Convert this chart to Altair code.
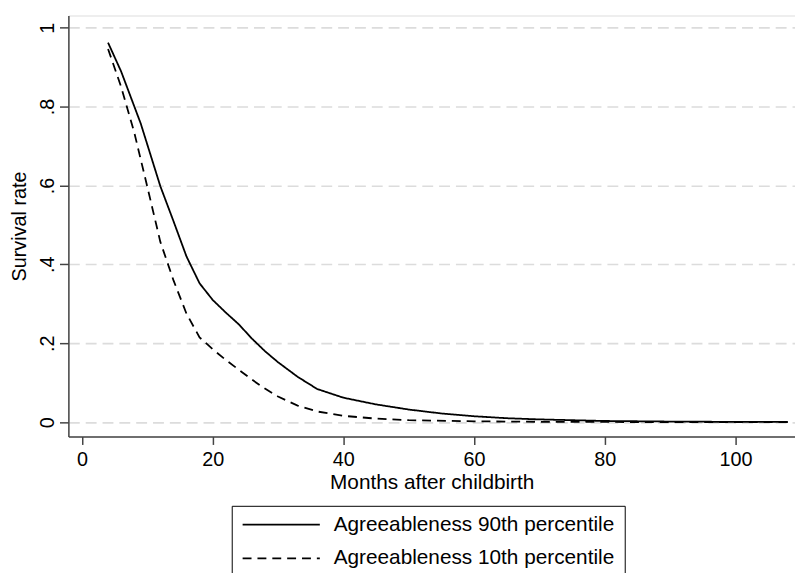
import altair as alt
import pandas as pd

# Solid: Agreeableness 90th percentile
months_p90 = [4, 6, 9, 12, 14, 16, 18, 20, 22, 24, 26, 28, 30, 33, 36, 40, 45, 50, 55, 60, 65, 70, 80, 90, 100, 108]
surv_p90 = [0.962, 0.889, 0.757, 0.598, 0.510, 0.420, 0.352, 0.310, 0.278, 0.248, 0.212, 0.180, 0.152, 0.115,
            0.084, 0.062, 0.045, 0.032, 0.022, 0.015, 0.010, 0.007, 0.003, 0.0015, 0.0007, 0.0004]

# Dashed: Agreeableness 10th percentile
months_p10 = [4, 6, 8, 10, 12, 14, 16, 18, 20, 22, 24, 26, 28, 30, 33, 36, 40, 45, 50, 60, 70, 80, 90, 108]
surv_p10 = [0.946, 0.850, 0.735, 0.597, 0.457, 0.360, 0.275, 0.215, 0.185, 0.158, 0.133, 0.108, 0.085, 0.065,
            0.042, 0.027, 0.016, 0.009, 0.005, 0.002, 0.001, 0.0005, 0.0002, 0.0001]

series_names = ["Agreeableness 90th percentile", "Agreeableness 10th percentile"]
x_ticks = [0, 20, 40, 60, 80, 100]
y_ticks = [0, 0.2, 0.4, 0.6, 0.8, 1.0]

rows = []
for m, s in zip(months_p90, surv_p90):
    rows.append({"month": m, "surv": s, "series": series_names[0]})
for m, s in zip(months_p10, surv_p10):
    rows.append({"month": m, "surv": s, "series": series_names[1]})
df = pd.DataFrame(rows)

FONT = "Liberation Sans"
FS = 20
TFS = 21

chart = alt.Chart(df).mark_line(color="black", strokeWidth=1.8, clip=True).encode(
    x=alt.X("month:Q", scale=alt.Scale(domain=[-2.07, 109.1], nice=False, zero=False),
            axis=alt.Axis(values=x_ticks, title="Months after childbirth", grid=False,
                          tickSize=8, labelPadding=5, labelFontSize=FS, labelFont=FONT,
                          titleFontSize=TFS, titleFont=FONT, titleFontWeight="normal",
                          titleX=367, titleY=52.7, titleBaseline="alphabetic", titleAlign="center",
                          domainColor="#444", tickColor="#444", labelColor="black", titleColor="black",
                          domainWidth=1.5, tickWidth=1.5)),
    y=alt.Y("surv:Q", scale=alt.Scale(domain=[-0.0364, 1.0309], nice=False, zero=False),
            axis=alt.Axis(values=y_ticks, title="Survival rate", grid=True,
                          gridColor="#dcdcdc", gridDash=[11, 6], gridWidth=1.6,
                          tickSize=9, labelPadding=2, labelFontSize=FS, labelFont=FONT,
                          labelAngle=270, labelAlign="center", labelBaseline="bottom",
                          labelExpr="datum.value == 0 ? '0' : datum.value == 1 ? '1' : replace(format(datum.value, '.1f'), '0.', '.')",
                          titleFontSize=FS, titleFont=FONT, titleFontWeight="normal",
                          titleAngle=270, titleX=-43, titleY=212.6, titleBaseline="alphabetic", titleAlign="center",
                          domainColor="#444", tickColor="#444", labelColor="black", titleColor="black",
                          domainWidth=1.5, tickWidth=1.5)),
    strokeDash=alt.StrokeDash("series:N",
                              scale=alt.Scale(domain=series_names, range=[[1, 0], [9, 6]]),
                              legend=alt.Legend(orient="none", legendX=165, legendY=495.3, title=None,
                                                direction="vertical", symbolType="stroke",
                                                symbolSize=6084, symbolStrokeWidth=1.8,
                                                symbolStrokeColor="black", clipHeight=18,
                                                labelOffset=13, rowPadding=13, padding=10,
                                                strokeColor="black", labelFontSize=TFS, labelFont=FONT,
                                                labelColor="black", labelLimit=400)),
).properties(
    width=734, height=425.3,
    autosize=alt.AutoSizeParams(type="none"),
    padding={"left": 61, "top": 4.7, "right": 0, "bottom": 135},
).configure_view(stroke=None).configure(background="white")

chart.save("out.html", embed_options={"renderer": "svg", "actions": False})
